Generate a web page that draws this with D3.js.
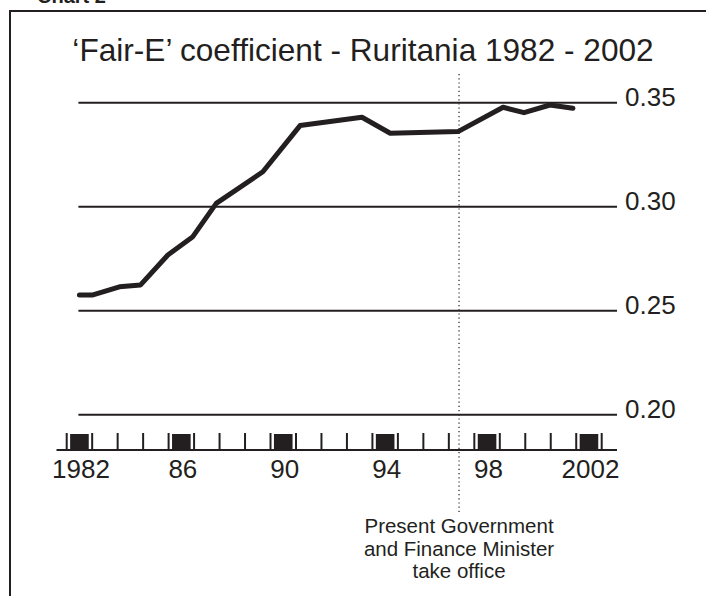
<!DOCTYPE html>
<html>
<head>
<meta charset="utf-8">
<script src="https://cdn.jsdelivr.net/npm/d3@7"></script>
<style>
  html, body { margin: 0; padding: 0; background: #fff; }
  svg { display: block; font-family: "Liberation Sans", Arial, Helvetica, sans-serif; }
</style>
</head>
<body>
<svg id="chart" width="706" height="596"></svg>
<script>
// ---- data ----
const years = [1982.0, 1982.5, 1983.57, 1984.4, 1985.47, 1986.45, 1987.37, 1989.2, 1990.66, 1993.09, 1994.2, 1996.86, 1998.63, 1999.45, 2000.47, 2001.37];
const values = [0.2575, 0.2575, 0.2615, 0.2624, 0.2768, 0.2856, 0.3016, 0.3168, 0.3390, 0.3430, 0.3353, 0.3361, 0.3478, 0.3452, 0.3489, 0.3473];
const yTicks = [0.20, 0.25, 0.30, 0.35];
const yTickLabels = ["0.20", "0.25", "0.30", "0.35"];
const axisYears = [1982, 1983, 1984, 1985, 1986, 1987, 1988, 1989, 1990, 1991, 1992, 1993, 1994, 1995, 1996, 1997, 1998, 1999, 2000, 2001, 2002];
const majorYears = [1982, 1986, 1990, 1994, 1998, 2002];
const majorLabels = ["1982", "86", "90", "94", "98", "2002"];
const eventYear = 1996.9;
const eventLabel = ["Present Government", "and Finance Minister", "take office"];
const title = "\u2018Fair-E\u2019 coefficient - Ruritania 1982 - 2002";
const chartLabel = "Chart 2";

// ---- drawing ----
const ink = "#231f20";
const svg = d3.select("#chart");

const x = d3.scaleLinear().domain([1981.5, 2002.5]).range([66.7, 601.7]);
const y = d3.scaleLinear().domain([0.20, 0.35]).range([414.7, 102.7]);

// frame
svg.append("path")
  .attr("d", "M10,600 L10,11 L710,11")
  .attr("fill", "none").attr("stroke", ink).attr("stroke-width", 2);

svg.append("text").attr("x", 37).attr("y", 3)
  .attr("font-size", 20).attr("font-weight", "bold").attr("fill", ink)
  .text(chartLabel);

// title
svg.append("text").attr("x", 363).attr("y", 61)
  .attr("text-anchor", "middle").attr("font-size", 31.6).attr("fill", ink)
  .text(title);

// gridlines
const gx0 = x(1981.96), gx1 = x(2003.1);
svg.append("g").selectAll("line").data(yTicks).join("line")
  .attr("x1", gx0).attr("x2", gx1)
  .attr("y1", d => y(d)).attr("y2", d => y(d))
  .attr("stroke", ink).attr("stroke-width", 2);

svg.append("g").selectAll("text").data(yTicks).join("text")
  .attr("x", 625).attr("y", d => y(d) + 3)
  .attr("font-size", 26).attr("fill", ink)
  .text((d, i) => yTickLabels[i]);

// x axis baseline
const axisY = 450;
svg.append("line")
  .attr("x1", x(1981.1)).attr("x2", x(2003.1))
  .attr("y1", axisY).attr("y2", axisY)
  .attr("stroke", ink).attr("stroke-width", 2);

// year boundaries
const bounds = axisYears.map(d => d - 0.5).concat([axisYears[axisYears.length - 1] + 0.5]);
svg.append("g").selectAll("line").data(bounds).join("line")
  .attr("x1", d => x(d)).attr("x2", d => x(d))
  .attr("y1", axisY - 17).attr("y2", axisY)
  .attr("stroke", ink).attr("stroke-width", 2);

// major boxes
svg.append("g").selectAll("rect").data(majorYears).join("rect")
  .attr("x", d => x(d) - 9.3).attr("width", 18.6)
  .attr("y", axisY - 16).attr("height", 16)
  .attr("fill", ink);

svg.append("g").selectAll("text").data(majorYears).join("text")
  .attr("x", d => x(d) + 1.5).attr("y", 478)
  .attr("text-anchor", "middle").attr("font-size", 26).attr("fill", ink)
  .text((d, i) => majorLabels[i]);

// event dotted line
svg.append("line")
  .attr("x1", x(eventYear)).attr("x2", x(eventYear))
  .attr("y1", 74).attr("y2", 513)
  .attr("stroke", ink).attr("stroke-width", 1.2)
  .attr("stroke-dasharray", "1.2,3");

svg.append("g").selectAll("text").data(eventLabel).join("text")
  .attr("x", x(eventYear)).attr("y", (d, i) => 533 + i * 22.5)
  .attr("text-anchor", "middle").attr("font-size", 20.5).attr("fill", ink)
  .text(d => d);

// data line
const line = d3.line().x((d, i) => x(years[i])).y(d => y(d));
svg.append("path")
  .datum(values)
  .attr("d", line)
  .attr("fill", "none").attr("stroke", ink).attr("stroke-width", 5)
  .attr("stroke-linejoin", "round").attr("stroke-linecap", "round");
</script>
</body>
</html>
